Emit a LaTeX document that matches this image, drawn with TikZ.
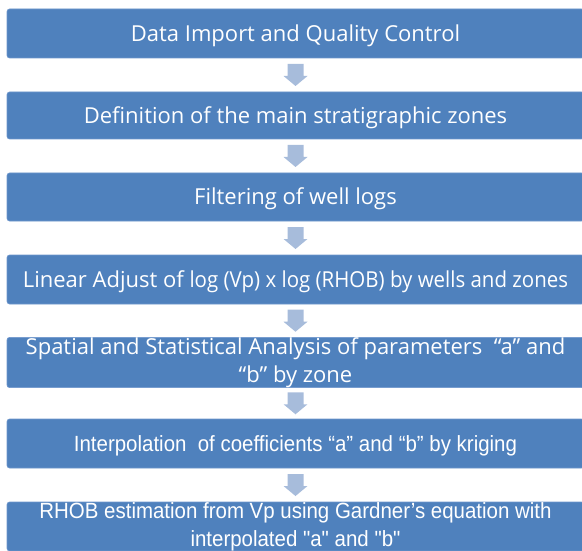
\documentclass[tikz,border=0pt]{standalone}
\usepackage{fontspec}
\usetikzlibrary{calc}
% step text faces
\newfontfamily\stepfont{Open Sans}
\newfontfamily\stepcond[FakeStretch=0.93]{Open Sans}
\newfontfamily\stepnarrow[FakeStretch=0.93]{Liberation Sans}
\definecolor{boxblue}{RGB}{79,129,189}
\definecolor{boxedge}{RGB}{110,150,205}
\definecolor{arrowblue}{RGB}{167,188,219}
\tikzset{
  stepbox/.style={rectangle, rounded corners=2.5pt, fill=boxblue, draw=boxedge,
    line width=0.6pt, minimum width=577pt, inner sep=0pt, text=white,
    align=center, font=\stepfont\fontsize{22}{28}\selectfont},
  oneline/.style={text height=15.5pt, text depth=0pt},
  narrowtext/.style={font=\stepnarrow\fontsize{22}{28}\selectfont},
  blockarrow/.style={fill=arrowblue, draw=none},
}
\begin{document}
\begin{tikzpicture}[x=1pt, y=-1pt]
  \useasboundingbox (0,0) rectangle (582,551);
  \begin{scope}
    \clip (0,0) rectangle (582,551);
    % process steps, top to bottom
    \node[stepbox, oneline, minimum height=49pt] (b1) at (295.5,33.5) {Data Import and Quality Control};
    \node[stepbox, oneline, minimum height=47pt] (b2) at (295.5,115.5) {Definition of the main stratigraphic zones};
    \node[stepbox, oneline, minimum height=48pt] (b3) at (295.5,197) {Filtering of well logs};
    \node[stepbox, oneline, minimum height=49pt] (b4) at (295.5,279.5) {Linear Adjust of {\stepcond log (Vp) x log (RHOB) by wells and zones}};
    \node[stepbox, minimum height=49pt] (b5) at (295.5,362.5) {Spatial and Statistical Analysis of parameters \ “a” and\\“b” by zone};
    \node[stepbox, narrowtext, oneline, minimum height=49pt] (b6) at (295.5,443.5) {Interpolation\ \ of coefficients “a” and “b” by kriging};
    \node[stepbox, narrowtext, minimum height=49pt] (b7) at (295.5,526.5) {RHOB estimation from Vp using Gardner’s equation with\\interpolated \char34a\char34{} and \char34b\char34};
    % block arrows between consecutive steps
    \foreach \a/\b in {b1/b2, b2/b3, b3/b4, b4/b5, b5/b6, b6/b7} {
      \path (\a.south) -- (\b.north) coordinate[pos=0.5] (m\a);
      \fill[blockarrow] ($(m\a)+(-8,-11)$) -- ++(16,0) -- ++(0,12) -- ++(4,0)
        -- ($(m\a)+(0,11)$) -- ($(m\a)+(-12,1)$) -- ++(4,0) -- cycle;
    }
  \end{scope}
\end{tikzpicture}
\end{document}
